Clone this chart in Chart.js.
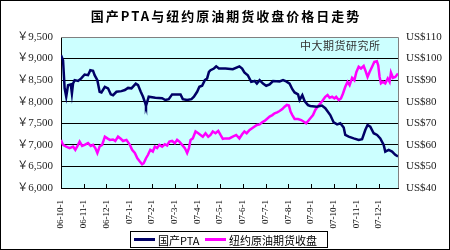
<!DOCTYPE html>
<html>
<head>
<meta charset="utf-8">
<script src="https://cdn.jsdelivr.net/npm/chart.js@4.4.1/dist/chart.umd.min.js"></script>
<style>
    html, body { margin: 0; padding: 0; background: #fff; }
    canvas { display: block; }
</style>
</head>
<body>
<canvas id="ptaChart" width="450" height="250"></canvas>
<script>
// Chart data
const titleText = '国产PTA与纽约原油期货收盘价格日走势';
const sourceText = '中大期货研究所';
const monthLabels = ['06-10-1', '06-11-1', '06-12-1', '07-1-1', '07-2-1', '07-3-1', '07-4-1',
    '07-5-1', '07-6-1', '07-7-1', '07-8-1', '07-9-1', '07-10-1', '07-11-1', '07-12-1'];
const seriesNames = ['国产PTA', '纽约原油期货收盘'];

// x = months since 06-10-1
const ptaMonth = [0, 0.09, 0.16, 0.23, 0.31, 0.43, 0.48, 0.53, 0.60, 0.75, 0.89, 1.04, 1.19, 1.29, 1.41,
    1.48, 1.60, 1.70, 1.78, 1.93, 2.07, 2.19, 2.29, 2.44, 2.66, 2.81, 2.95, 3.10, 3.29, 3.39, 3.51, 3.61,
    3.71, 3.74, 3.86, 4.15, 4.45, 4.59, 4.74, 4.89, 5.26, 5.36, 5.55, 5.74, 5.85, 5.99, 6.09, 6.21, 6.33,
    6.43, 6.51, 6.58, 6.73, 6.83, 6.95, 7.24, 7.56, 7.85, 7.97, 8.07, 8.22, 8.37, 8.52, 8.62, 8.74, 8.89,
    9.03, 9.18, 9.33, 9.62, 9.77, 9.91, 10.06, 10.18, 10.28, 10.43, 10.50, 10.62, 10.72, 10.87, 10.97,
    11.26, 11.48, 11.63, 11.85, 12.00, 12.15, 12.29, 12.44, 12.51, 12.66, 12.88, 13.10, 13.25, 13.39,
    13.49, 13.61, 13.76, 13.91, 14.05, 14.20, 14.27, 14.42, 14.57, 14.71, 14.83];
const ptaPrice = [9080, 8960, 8310, 8115, 8380, 8400, 8190, 8420, 8500, 8480, 8540, 8630, 8615, 8730, 8715,
    8615, 8500, 8230, 8215, 8345, 8310, 8170, 8150, 8230, 8245, 8270, 8320, 8310, 8420, 8385, 8230, 8115,
    7960, 7900, 8115, 8090, 8080, 8040, 8060, 8170, 8170, 8060, 8040, 8060, 8115, 8230, 8345, 8370, 8500,
    8540, 8690, 8730, 8770, 8820, 8770, 8770, 8755, 8820, 8770, 8680, 8615, 8460, 8480, 8420, 8500, 8420,
    8370, 8400, 8480, 8470, 8500, 8470, 8420, 8290, 8215, 8170, 8040, 8150, 8015, 7920, 7900,
    7885, 7910, 7850, 7690, 7520, 7475, 7500, 7400, 7230, 7190, 7150, 7115, 7130, 7345,
    7460, 7420, 7270, 7230, 7150, 7000, 6845, 6885, 6845, 6770, 6730];

const oilMonth = [0, 0.09, 0.23, 0.38, 0.53, 0.63, 0.75, 0.82, 0.93, 1.04, 1.19, 1.31, 1.41, 1.51, 1.60,
    1.70, 1.81, 1.93, 2.04, 2.15, 2.29, 2.39, 2.51, 2.63, 2.73, 2.88, 3.03, 3.13, 3.25, 3.36, 3.47, 3.57,
    3.64, 3.74, 3.83, 3.93, 4.04, 4.13, 4.23, 4.33, 4.45, 4.57, 4.67, 4.77, 4.89, 5.01, 5.11, 5.21, 5.33,
    5.45, 5.55, 5.63, 5.70, 5.80, 5.92, 6.04, 6.14, 6.24, 6.36, 6.48, 6.58, 6.68, 6.80, 6.92, 7.02, 7.12,
    7.24, 7.41, 7.56, 7.71, 7.85, 7.97, 8.07, 8.17, 8.30, 8.41, 8.52, 8.62, 8.74, 8.85, 8.96, 9.06, 9.18,
    9.30, 9.40, 9.51, 9.62, 9.74, 9.84, 9.94, 10.03, 10.10, 10.18, 10.28, 10.43, 10.57, 10.72, 10.79,
    10.91, 11.01, 11.09, 11.19, 11.29, 11.41, 11.53, 11.63, 11.73, 11.82, 11.93, 12.03, 12.11, 12.22,
    12.32, 12.41, 12.51, 12.61, 12.70, 12.81, 12.91, 13.00, 13.10, 13.20, 13.32, 13.39, 13.49, 13.58,
    13.69, 13.79, 13.90, 13.96, 14.02, 14.08, 14.17, 14.27, 14.38, 14.46, 14.52, 14.61, 14.71, 14.83];
const oilPrice = [62.3, 60, 59.2, 58.5, 59.2, 57.7, 60, 61.5, 59.5, 60, 60.8, 59.5, 60, 58.5, 56.2,
    59.2, 60, 63.8, 63, 62.3, 62.5, 61.8, 63.8, 62.8, 61.8, 62.3, 60, 57.7, 56.2, 53.8, 52.3, 51,
    51.5, 53.8, 55.4, 57.7, 56.9, 59.2, 58.5, 60, 59.2, 60.3, 59.7, 61.5, 61.8, 60.8, 62.3, 61.5, 60,
    58.5, 56.2, 58.5, 62.3, 63, 66.2, 65.4, 64.6, 63.8, 65.4, 63.8, 64.6, 66.2, 65.4, 66.5, 64.6, 62.8,
    63, 63, 63.8, 64.6, 63, 64.9, 66.2, 65.4, 66.9, 67.7, 68.5, 69.2, 69.5, 70.5, 71.1, 72, 73.1,
    73.8, 74.6, 75.1, 75.7, 76.6, 77.7, 78.5, 78.2, 75.4, 73.8, 72, 72, 71.5, 70.5, 70,
    71.5, 72.8, 73.8, 76.2, 77.7, 79.2, 80.8, 82.3, 83.1, 81.8, 82.3, 81.5, 82.3, 80.8,
    81.5, 83.8, 86.9, 89.2, 87.7, 91.1, 90, 93.8, 96.2, 95.4, 96.6, 94.6, 91.5, 93.8,
    96.2, 98.5, 98.8, 96.9, 91.5, 88.5, 89.2, 88.5, 90.8, 89.2, 93.5, 91.1, 91.5, 93.1];

const ptaColor = '#000066';
const oilColor = '#ff00ff';
const plotBg = '#ccffff';
const tickFont = { family: "'Liberation Serif', 'Noto Sans CJK SC', serif", size: 11 };
const cjkFont = "'Noto Sans CJK SC', sans-serif";

function toPoints(xs, ys) {
    return xs.map((x, i) => ({ x: x, y: ys[i] }));
}

/**
 * Background + plot area fill
 */
const backgroundPlugin = {
    id: 'background',
    beforeDraw(chart) {
        const { ctx, chartArea: a } = chart;
        ctx.save();
        ctx.fillStyle = '#fff';
        ctx.fillRect(0, 0, chart.width, chart.height);
        ctx.fillStyle = plotBg;
        ctx.fillRect(a.left, a.top, a.right - a.left, a.bottom - a.top);
        ctx.restore();
    }
};

/**
 * Title, source note, inside tick marks, legend box and frame
 */
const decorPlugin = {
    id: 'decor',
    afterDraw(chart) {
        const { ctx, chartArea: a } = chart;
        const xScale = chart.scales.x;
        ctx.save();

        // plot border top/right
        ctx.strokeStyle = '#808080';
        ctx.lineWidth = 1;
        ctx.beginPath();
        ctx.moveTo(a.left, a.top + 0.5);
        ctx.lineTo(a.right + 0.5, a.top + 0.5);
        ctx.lineTo(a.right + 0.5, a.bottom);
        ctx.stroke();

        // month tick marks pointing into the plot
        ctx.strokeStyle = '#000';
        ctx.beginPath();
        monthLabels.forEach((_, i) => {
            const x = Math.round(xScale.getPixelForValue(i)) + 0.5;
            ctx.moveTo(x, a.bottom);
            ctx.lineTo(x, a.bottom - 4);
        });
        ctx.stroke();

        // title
        ctx.fillStyle = '#000';
        ctx.font = 'bold 13px ' + cjkFont;
        ctx.textAlign = 'center';
        ctx.textBaseline = 'middle';
        ctx.letterSpacing = '2px';
        ctx.fillText(titleText, chart.width / 2 + 1, 16);
        ctx.letterSpacing = '0px';

        // source note
        ctx.font = '11px ' + cjkFont;
        ctx.fillStyle = '#333';
        ctx.textAlign = 'left';
        ctx.letterSpacing = '0.5px';
        ctx.fillText(sourceText, 300, 46);
        ctx.letterSpacing = '0px';

        // legend
        const lx = 130.5, ly = 231.5, lw = 197, lh = 16;
        ctx.strokeStyle = '#000';
        ctx.strokeRect(lx, ly, lw, lh);
        const cy = ly + lh / 2;
        const items = [
            { color: ptaColor, text: seriesNames[0], x0: 134 },
            { color: oilColor, text: seriesNames[1], x0: 205 }
        ];
        ctx.font = '11px ' + cjkFont;
        ctx.fillStyle = '#000';
        ctx.textBaseline = 'middle';
        items.forEach(it => {
            ctx.strokeStyle = it.color;
            ctx.lineWidth = 3;
            ctx.beginPath();
            ctx.moveTo(it.x0, cy);
            ctx.lineTo(it.x0 + 21, cy);
            ctx.stroke();
            ctx.fillText(it.text, it.x0 + 24, cy + 1);
        });

        // outer frame
        ctx.strokeStyle = '#000';
        ctx.lineWidth = 1;
        ctx.strokeRect(0.5, 0.5, chart.width - 1, chart.height - 1);
        ctx.restore();
    }
};

const ctx = document.getElementById('ptaChart').getContext('2d');

const chart = new Chart(ctx, {
    type: 'line',
    data: {
        datasets: [
            {
                label: seriesNames[0],
                data: toPoints(ptaMonth, ptaPrice),
                borderColor: ptaColor,
                borderWidth: 2.5,
                pointRadius: 0,
                tension: 0,
                yAxisID: 'y'
            },
            {
                label: seriesNames[1],
                data: toPoints(oilMonth, oilPrice),
                borderColor: oilColor,
                borderWidth: 2.5,
                pointRadius: 0,
                tension: 0,
                yAxisID: 'y1'
            }
        ]
    },
    options: {
        responsive: false,
        animation: false,
        devicePixelRatio: 1,
        layout: { padding: { top: 37, bottom: 18, left: 0, right: 0 } },
        plugins: {
            legend: { display: false },
            title: { display: false },
            tooltip: { enabled: false }
        },
        scales: {
            x: {
                type: 'linear',
                min: 0,
                max: 14.83,
                afterBuildTicks: scale => {
                    scale.ticks = monthLabels.map((_, i) => ({ value: i }));
                },
                afterFit: scale => { scale.height = 44; },
                grid: { display: false },
                border: { display: true, color: '#000', width: 1 },
                ticks: {
                    autoSkip: false,
                    minRotation: 90,
                    maxRotation: 90,
                    padding: 4,
                    color: '#000',
                    font: { family: tickFont.family, size: 9 },
                    callback: v => monthLabels[v]
                }
            },
            y: {
                position: 'left',
                min: 6000,
                max: 9500,
                afterFit: scale => { scale.width = 61; },
                grid: {
                    drawTicks: false,
                    color: c => (c.tick.value === 6000 || c.tick.value === 9500) ? 'rgba(0,0,0,0)' : '#000'
                },
                border: { display: true, color: '#000', width: 1 },
                ticks: {
                    stepSize: 500,
                    padding: 8,
                    color: '#222',
                    font: tickFont,
                    callback: v => '￥' + v.toLocaleString('en-US')
                }
            },
            y1: {
                position: 'right',
                min: 40,
                max: 110,
                afterFit: scale => { scale.width = 52; },
                grid: { display: false, drawTicks: false },
                border: { display: false },
                ticks: {
                    stepSize: 10,
                    padding: 8,
                    color: '#222',
                    font: tickFont,
                    callback: v => 'US$' + v
                }
            }
        }
    },
    plugins: [backgroundPlugin, decorPlugin]
});
</script>
</body>
</html>
